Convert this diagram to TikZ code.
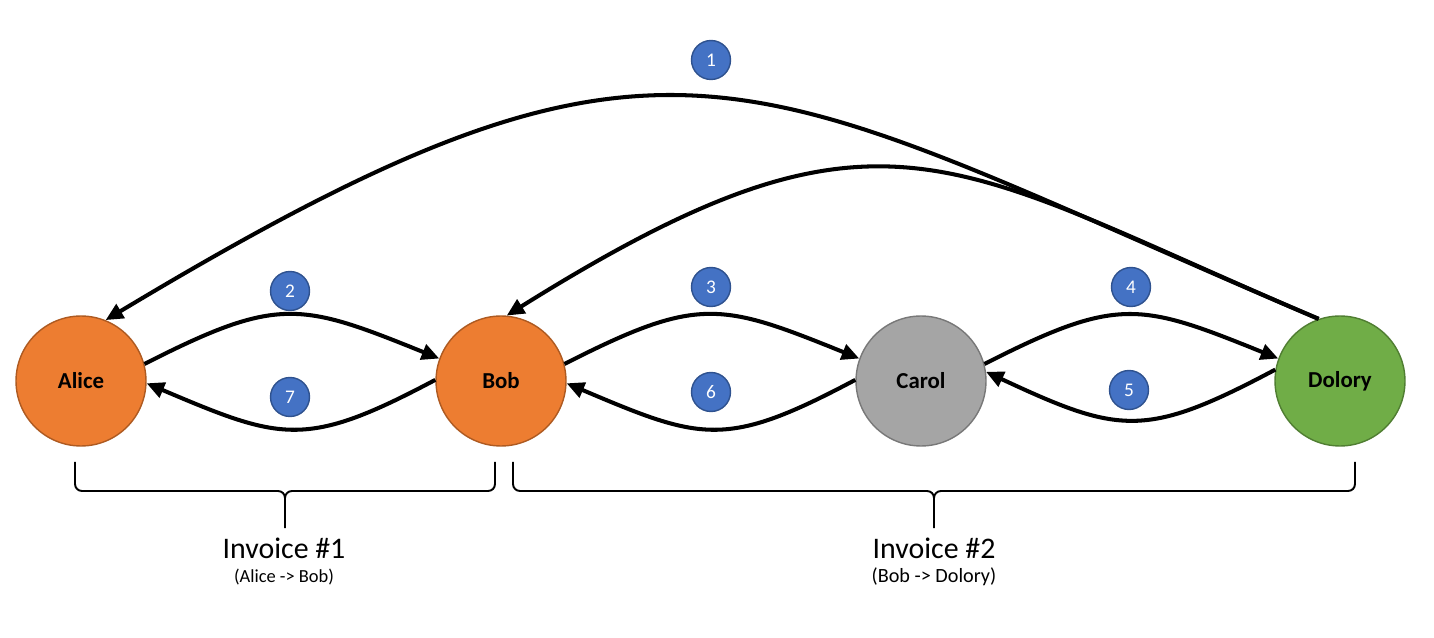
\documentclass[tikz,border=0pt]{standalone}
\usepackage{fontspec}
\setmainfont{Carlito}
\usepackage{xcolor}
\usetikzlibrary{arrows.meta}

\definecolor{orgF}{HTML}{ED7D31}
\definecolor{orgD}{HTML}{AE5A21}
\definecolor{grayF}{HTML}{A5A5A5}
\definecolor{grayD}{HTML}{787878}
\definecolor{grnF}{HTML}{70AD47}
\definecolor{grnD}{HTML}{507E32}
\definecolor{numF}{HTML}{4472C4}
\definecolor{numD}{HTML}{2F528F}

\begin{document}
\begin{tikzpicture}[x=0.02cm,y=0.02cm,
    party/.style={circle,minimum size=2.6cm,line width=0.8pt,font=\fontsize{13}{15}\selectfont\bfseries},
    num/.style={circle,minimum size=0.78cm,inner sep=0pt,fill=numF,draw=numD,line width=0.8pt,text=white,font=\fontsize{11}{13}\selectfont},
    flow/.style={line width=2.3pt,-{Triangle[length=10pt,width=9pt]}},
    brace/.style={line width=1.1pt}]
    \useasboundingbox (0,0) rectangle (1434,-638);

    % Parties
    \node[party,fill=orgF,draw=orgD] (alice) at (81,-381) {Alice};
    \node[party,fill=orgF,draw=orgD] (bob) at (501,-381) {Bob};
    \node[party,fill=grayF,draw=grayD] (carol) at (921,-381) {Carol};
    \node[party,fill=grnF,draw=grnD] (dolory) at (1340,-381) {Dolory};

    % Long arcs from Dolory
    \draw[flow] (dolory.109) to[out=157,in=31,out distance=12.6cm,in distance=13.4cm] (alice.68);
    \draw[flow] (dolory.109) to[out=157,in=32,out distance=8.1cm,in distance=8.9cm] (bob.85);

    % Hops along the route
    \draw[flow] (alice.15) to[out=27,in=158,looseness=1.3] (bob.160);
    \draw[flow] (bob.179) to[out=208,in=-23,looseness=1.3] (alice.-2);
    \draw[flow] (bob.15) to[out=27,in=158,looseness=1.3] (carol.160);
    \draw[flow] (carol.179) to[out=208,in=-23,looseness=1.3] (bob.-2);
    \draw[flow] (carol.15) to[out=27,in=158,looseness=1.3] (dolory.160);
    \draw[flow] (dolory.170) to[out=208,in=-25,looseness=1.3] (carol.8);

    % Step numbers
    \node[num] (n1) at (711,-60) {1};
    \node[num] (n2) at (290,-291) {2};
    \node[num] (n3) at (711,-287) {3};
    \node[num] (n4) at (1131,-287) {4};
    \node[num] (n5) at (1129,-390) {5};
    \node[num] (n6) at (711,-392) {6};
    \node[num] (n7) at (290,-397) {7};

    % Braces
    \draw[brace] (75,-462) -- (75,-484) to[out=-90,in=180] (82,-491) -- (278,-491) to[out=0,in=90] (285,-498) -- (285,-528);
    \draw[brace] (285,-498) to[out=90,in=180] (292,-491) -- (488,-491) to[out=0,in=-90] (495,-484) -- (495,-462);
    \draw[brace] (513,-462) -- (513,-484) to[out=-90,in=180] (520,-491) -- (927,-491) to[out=0,in=90] (934,-498) -- (934,-528);
    \draw[brace] (934,-498) to[out=90,in=180] (941,-491) -- (1348,-491) to[out=0,in=-90] (1355,-484) -- (1355,-462);

    % Invoice labels
    \node[font=\fontsize{17}{20}\selectfont] (inv1) at (284,-548) {Invoice \#1};
    \node[font=\fontsize{10.5}{12}\selectfont] (inv1sub) at (284,-577) {(Alice -> Bob)};
    \node[font=\fontsize{17}{20}\selectfont] (inv2) at (934,-548) {Invoice \#2};
    \node[font=\fontsize{11.5}{13}\selectfont] (inv2sub) at (934,-577) {(Bob -> Dolory)};
\end{tikzpicture}
\end{document}
